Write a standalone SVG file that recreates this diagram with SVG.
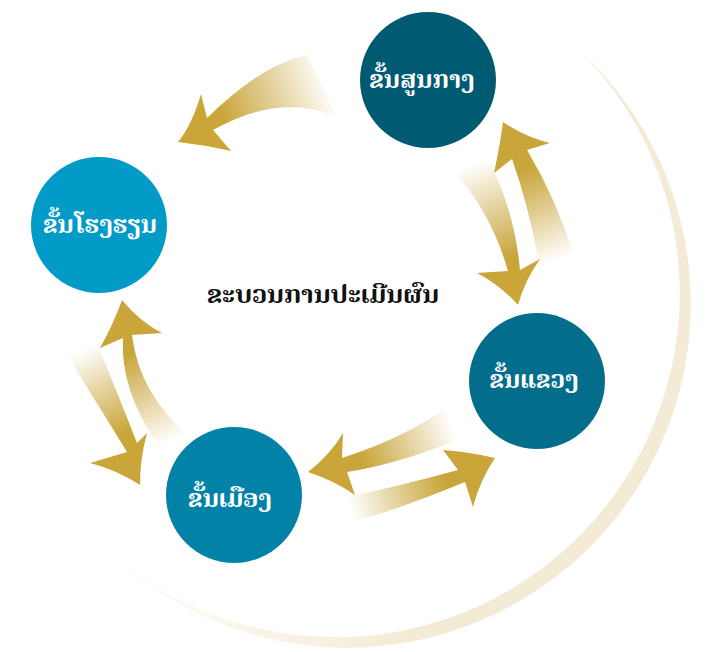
<svg xmlns="http://www.w3.org/2000/svg" width="706" height="652" viewBox="0 0 706 652">
<style>
.lbl{font-family:"Noto Serif Lao","Phetsarath OT","Saysettha OT","Noto Sans Lao","DejaVu Sans",serif;font-size:24px;font-weight:bold;fill:#ffffff;text-anchor:middle}
.title{font-family:"Noto Serif Lao","Phetsarath OT","Saysettha OT","Noto Sans Lao","DejaVu Sans",serif;font-size:25px;font-weight:bold;fill:#111111;text-anchor:middle}
</style>
<defs>
<linearGradient id="ring" gradientUnits="userSpaceOnUse" x1="100" y1="540" x2="420" y2="600">
<stop offset="0" stop-color="#F4EBD6" stop-opacity="0"/>
<stop offset="1" stop-color="#F4EBD6" stop-opacity="1"/>
</linearGradient>
<linearGradient id="gA" gradientUnits="userSpaceOnUse" x1="330" y1="85" x2="205" y2="130"><stop offset="0" stop-color="#C9A53A" stop-opacity="0"/><stop offset="0.5" stop-color="#C9A53A" stop-opacity="0.6"/><stop offset="0.85" stop-color="#C9A53A"/></linearGradient>
<linearGradient id="gB" gradientUnits="userSpaceOnUse" x1="470" y1="165" x2="515" y2="275"><stop offset="0" stop-color="#C9A53A" stop-opacity="0"/><stop offset="0.5" stop-color="#C9A53A" stop-opacity="0.6"/><stop offset="0.85" stop-color="#C9A53A"/></linearGradient>
<linearGradient id="gC" gradientUnits="userSpaceOnUse" x1="556" y1="262" x2="515" y2="155"><stop offset="0" stop-color="#C9A53A" stop-opacity="0"/><stop offset="0.5" stop-color="#C9A53A" stop-opacity="0.6"/><stop offset="0.85" stop-color="#C9A53A"/></linearGradient>
<linearGradient id="gD" gradientUnits="userSpaceOnUse" x1="452" y1="423" x2="345" y2="465"><stop offset="0" stop-color="#C9A53A" stop-opacity="0"/><stop offset="0.5" stop-color="#C9A53A" stop-opacity="0.6"/><stop offset="0.85" stop-color="#C9A53A"/></linearGradient>
<linearGradient id="gE" gradientUnits="userSpaceOnUse" x1="350" y1="509" x2="460" y2="476"><stop offset="0" stop-color="#C9A53A" stop-opacity="0"/><stop offset="0.5" stop-color="#C9A53A" stop-opacity="0.6"/><stop offset="0.85" stop-color="#C9A53A"/></linearGradient>
<linearGradient id="gF" gradientUnits="userSpaceOnUse" x1="173" y1="440" x2="127" y2="336"><stop offset="0" stop-color="#C9A53A" stop-opacity="0"/><stop offset="0.5" stop-color="#C9A53A" stop-opacity="0.6"/><stop offset="0.85" stop-color="#C9A53A"/></linearGradient>
<linearGradient id="gG" gradientUnits="userSpaceOnUse" x1="82" y1="350" x2="132" y2="448"><stop offset="0" stop-color="#C9A53A" stop-opacity="0"/><stop offset="0.5" stop-color="#C9A53A" stop-opacity="0.6"/><stop offset="0.85" stop-color="#C9A53A"/></linearGradient>
</defs>
<rect width="706" height="652" fill="#ffffff"/>
<path id="ring-arc" d="M 580.3 51.2 A 344 344 0 1 1 102.2 545.7 A 344 344 0 0 0 580.3 51.2 Z" fill="url(#ring)"/>
<g id="connectors">
<path d="M 307 55 Q 263 63.5 207 118 L 201 94 Q 192 125 178 142 Q 205 145 231 151 L 213 130 Q 279 92.5 337 117 Z" fill="url(#gA)"/>
<path d="M 450 167 Q 491 211 508 271 L 477 273 Q 500 285 518 305 Q 525 280 540 259 L 520 270 Q 515 214 490 162 Z" fill="url(#gB)"/>
<path d="M 540 270 Q 530 209.5 512 159 L 494 173 Q 500 145 503 122 Q 525 137 550 143 L 527 150 Q 556 198.5 573 253 Z" fill="url(#gC)"/>
<path d="M 447 407 Q 405.5 437.5 342 458 L 343 433 Q 330 455 308 472 Q 333 480 355 495 L 347 472 Q 398 464 457 440 Z" fill="url(#gD)"/>
<path d="M 343 498 Q 399.5 486 458 470 L 443 450 Q 470 452 495 458 Q 480 480 473 507 L 465 482 Q 389 513 357 520 Z" fill="url(#gE)"/>
<path d="M 157 443 Q 120 389.5 123 338 L 100 348 Q 113 325 122 300 Q 140 322 162 333 L 132 335 Q 139 394 190 437 Z" fill="url(#gF)"/>
<path d="M 68 357 Q 108.5 421.5 127 452 L 90 463 Q 117 470 140 485 Q 140 458 147 433 L 137 443 Q 123 407 97 343 Z" fill="url(#gG)"/>
</g>
<g id="node-central">
<circle cx="428" cy="80" r="68" fill="#005A72"/>
<text class="lbl" x="422" y="88">ຂັ້ນສູນກາງ</text>
</g>
<g id="node-school">
<circle cx="99" cy="225" r="68" fill="#029BC7"/>
<text class="lbl" x="100" y="233">ຂັ້ນໂຮງຮຽນ</text>
</g>
<g id="node-province">
<circle cx="537" cy="381" r="68" fill="#036E8C"/>
<text class="lbl" x="534" y="388">ຂັ້ນແຂວງ</text>
</g>
<g id="node-district">
<circle cx="234" cy="495" r="68" fill="#0282A6"/>
<text class="lbl" x="230" y="507">ຂັ້ນເມືອງ</text>
</g>
<g id="title">
<text class="title" x="323" y="303">ຂະບວນການປະເມີນຜົນ</text>
</g>
</svg>
